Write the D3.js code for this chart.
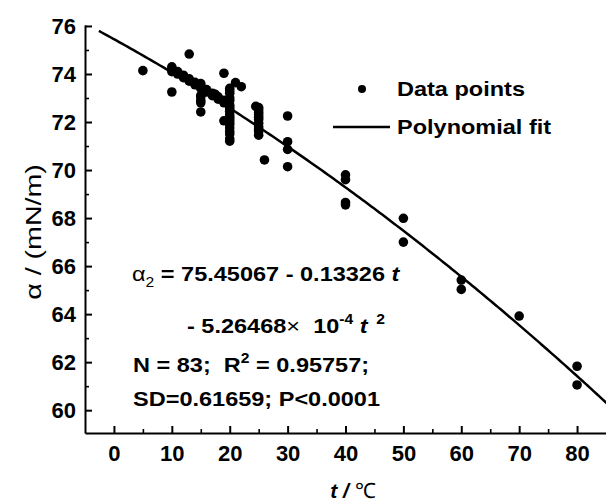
<!DOCTYPE html>
<html>
<head>
<meta charset="utf-8">
<script src="https://cdn.jsdelivr.net/npm/d3@7"></script>
<style>
body { margin: 0; background: #fff; }
svg { display: block; }
text { font-family: "Liberation Sans", Arial, sans-serif; fill: #000; white-space: pre; }
.axis text { font-size: 22px; font-weight: bold; }
.axis path, .axis line { stroke: #000; stroke-width: 2; }
.minor line { stroke-width: 1.6; }
.ann { font-size: 21px; font-weight: bold; }
</style>
</head>
<body>
<svg width="606" height="504"></svg>
<script>
// measured points: temperature (°C) and surface tension (mN/m)
var temps = [5,
    10, 10, 10, 10, 11, 11, 12, 12, 12, 13, 13, 13, 14, 14,
    15, 15, 15, 15, 15, 15, 15, 15, 16, 16, 17, 17, 17.5, 18, 18,
    19, 19, 19, 19,
    20, 20, 20, 20, 20, 20, 20, 20, 20, 20, 20, 20, 20, 20, 20, 20, 20, 20, 20,
    21, 22,
    24.5, 25, 25, 25, 25, 25, 25, 25, 25, 25, 25, 25,
    26, 30, 30, 30, 30,
    40, 40, 40, 40, 50, 50, 60, 60, 70, 80, 80];
var tension = [74.14,
    74.3, 74.2, 74.1, 73.25, 74.1, 74.0, 73.95, 73.9, 73.85, 74.83, 73.8, 73.7, 73.65, 73.55,
    73.6, 73.5, 73.4, 73.1, 73.05, 72.9, 72.8, 72.42, 73.35, 73.25, 73.2, 73.1, 73.15, 73.05, 72.95,
    74.03, 72.9, 72.8, 72.05,
    73.4, 73.3, 73.2, 73.0, 72.9, 72.7, 72.6, 72.5, 72.45, 72.3, 72.2, 72.1, 72.0, 71.9, 71.75, 71.6, 71.5, 71.3, 71.2,
    73.64, 73.47,
    72.65, 72.6, 72.5, 72.4, 72.3, 72.2, 72.1, 71.95, 71.8, 71.7, 71.6, 71.45,
    70.42, 72.25, 71.18, 70.86, 70.14,
    69.8, 69.6, 68.65, 68.55, 67.99, 67.0, 65.42, 65.03, 63.92, 61.83, 61.05];

// fit coefficients: a = b0 + b1 t + b2 t^2
var fitCoef = [75.45067, -0.13326, -5.26468e-4];
var fitRange = [-2.6, 85];

var xTicks = [0, 10, 20, 30, 40, 50, 60, 70, 80];
var yTicks = [60, 62, 64, 66, 68, 70, 72, 74, 76];

var svg = d3.select("svg");

var x = d3.scaleLinear().domain([-5, 85]).range([85, 606]);
var y = d3.scaleLinear().domain([59.05, 76.04]).range([433, 25]);

svg.append("defs").append("clipPath").attr("id", "plot")
  .append("rect")
    .attr("x", 85).attr("y", 20)
    .attr("width", 521).attr("height", 413);

// minor ticks
svg.append("g")
    .attr("class", "axis minor")
    .attr("transform", "translate(0,433)")
    .call(d3.axisBottom(x).tickValues(d3.range(5, 85, 10)).tickSize(-4).tickFormat(""))
    .call(function(g) { g.select(".domain").remove(); });

svg.append("g")
    .attr("class", "axis minor")
    .attr("transform", "translate(85,0)")
    .call(d3.axisLeft(y).tickValues(d3.range(61, 77, 2)).tickSize(-4).tickFormat(""))
    .call(function(g) { g.select(".domain").remove(); });

svg.append("g")
    .attr("class", "axis axis--x")
    .attr("transform", "translate(0,433)")
    .call(d3.axisBottom(x).tickValues(xTicks).tickSizeInner(-7).tickSizeOuter(0).tickPadding(12));

svg.append("g")
    .attr("class", "axis axis--y")
    .attr("transform", "translate(85,0)")
    .call(d3.axisLeft(y).tickValues(yTicks).tickSizeInner(-7).tickSizeOuter(0).tickPadding(9));

// fit curve
var fitT = d3.range(fitRange[0], fitRange[1] + 0.5, 0.5);
var line = d3.line()
    .x(function(t) { return x(t); })
    .y(function(t) { return y(fitCoef[0] + fitCoef[1] * t + fitCoef[2] * t * t); });

svg.append("path")
    .datum(fitT)
    .attr("clip-path", "url(#plot)")
    .attr("fill", "none")
    .attr("stroke", "#000")
    .attr("stroke-width", 2.5)
    .attr("d", line);

svg.selectAll(".dot")
  .data(temps)
  .enter().append("circle")
    .attr("class", "dot")
    .attr("cx", function(d) { return x(d); })
    .attr("cy", function(d, i) { return y(tension[i]); })
    .attr("r", 4.8)
    .attr("fill", "#000");

// text in the source is a bit wider than the font, stretch it
function label(px, py) {
  return svg.append("text").attr("class", "ann")
      .attr("transform", "translate(" + px + "," + py + ") scale(1.12,1)");
}

// legend
svg.append("circle").attr("cx", 362).attr("cy", 89).attr("r", 4).attr("fill", "#000");
label(397, 96).text("Data points");
svg.append("line").attr("x1", 333).attr("x2", 390).attr("y1", 127).attr("y2", 127)
    .attr("stroke", "#000").attr("stroke-width", 2.5);
label(397, 134).text("Polynomial fit");

// equation
var eq1 = label(132, 281);
eq1.append("tspan").attr("font-weight", "normal").text("α");
eq1.append("tspan").attr("dy", 6).attr("font-size", 14).attr("font-weight", "normal").text("2");
eq1.append("tspan").attr("dy", -6).text(" = 75.45067 - 0.13326 ");
eq1.append("tspan").attr("font-style", "italic").text("t");

var eq2 = label(187, 333);
eq2.append("tspan").text("- 5.26468");
eq2.append("tspan").attr("font-weight", "normal").text("×  ");
eq2.append("tspan").text("10");
eq2.append("tspan").attr("dy", -9).attr("font-size", 14).text("-4");
eq2.append("tspan").attr("dy", 9).attr("font-style", "italic").text(" t");
eq2.append("tspan").attr("dy", -9).attr("font-size", 14).text("  2");

var eq3 = label(133, 372);
eq3.append("tspan").text("N = 83;  R");
eq3.append("tspan").attr("dy", -9).attr("font-size", 14).text("2");
eq3.append("tspan").attr("dy", 9).text(" = 0.95757;");

label(133, 406).text("SD=0.61659; P<0.0001");

// axis titles
svg.append("text")
    .attr("transform", "translate(41,232) rotate(-90) scale(1.3,1)")
    .attr("text-anchor", "middle")
    .attr("font-size", 22)
    .text("α / (mN/m)");

var xt = svg.append("text")
    .attr("x", 353).attr("y", 498)
    .attr("text-anchor", "middle")
    .attr("font-size", 21);
xt.append("tspan").attr("font-weight", "bold").attr("font-style", "italic").text("t / ");
xt.append("tspan").text("℃");
</script>
</body>
</html>
